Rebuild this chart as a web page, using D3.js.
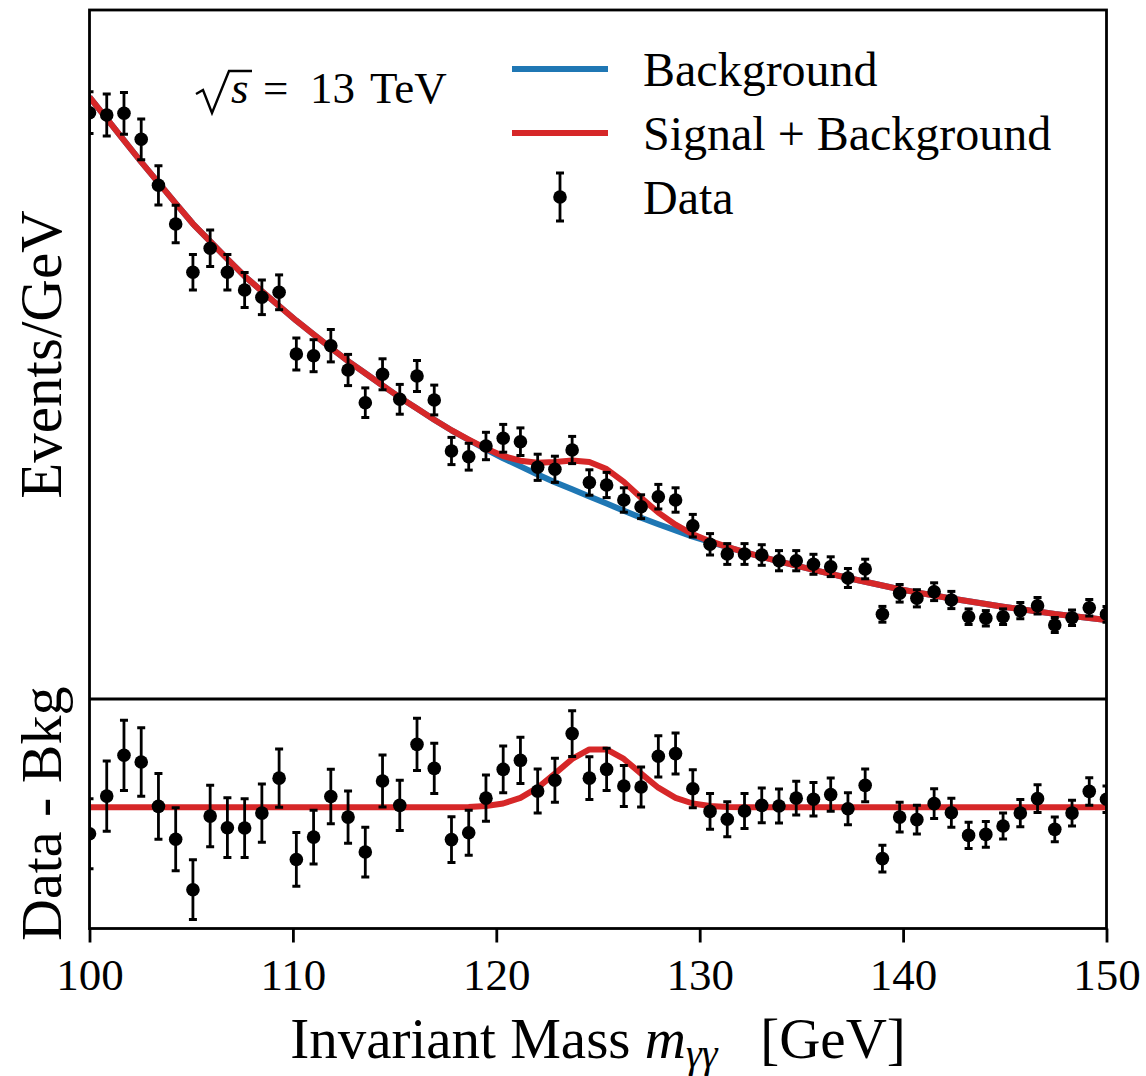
<!DOCTYPE html>
<html>
<head>
<meta charset="utf-8">
<script src="https://cdn.jsdelivr.net/npm/d3@7"></script>
<style>
  body { margin: 0; background: #fff; }
  text { font-family: "Liberation Serif", "DejaVu Serif", serif; fill: #000; }
</style>
</head>
<body>
<div id="chart"></div>
<script>
// binning: 60 bin centres from 100 to 150 GeV
var massLo = 100, massHi = 150, nBins = 60;
var mass = d3.range(nBins).map(function(i) { return massLo + i * (massHi - massLo) / (nBins - 1); });

// events per bin (arbitrary units)
var events = [585.3, 583.0, 584.7, 558.7, 512.7, 474.0, 425.7, 449.7, 425.7, 408.0,
  400.7, 405.7, 344.0, 342.3, 352.3, 328.0, 295.3, 323.7, 298.7, 322.0,
  298.0, 247.0, 241.3, 252.0, 259.7, 256.3, 230.7, 228.7, 248.0, 215.5,
  213.0, 198.0, 191.3, 201.3, 198.0, 172.3, 153.7, 144.0, 144.0, 143.0,
  137.3, 137.3, 133.7, 131.3, 120.0, 129.0, 83.7, 104.7, 99.7, 106.3,
  98.0, 81.3, 79.7, 81.3, 87.3, 92.3, 73.0, 80.3, 90.3, 83.7];

var errors = [20.9, 20.9, 20.9, 20.4, 19.6, 18.8, 17.8, 18.3, 17.8, 17.5,
  17.3, 17.4, 16.0, 16.0, 16.2, 15.6, 14.8, 15.5, 14.9, 15.5,
  14.9, 13.6, 13.4, 13.7, 13.9, 13.8, 13.1, 13.1, 13.6, 12.7,
  12.6, 12.2, 11.9, 12.3, 12.2, 11.3, 10.7, 10.4, 10.4, 10.3,
  10.1, 10.1, 10.0, 9.9, 9.5, 9.8, 7.9, 8.8, 8.6, 8.9,
  8.6, 7.8, 7.7, 7.8, 8.1, 8.3, 7.4, 7.7, 8.2, 7.9];

// data - background, same units
var residual = [-15.7, 6.7, 31.0, 27.0, 0.6, -19.0, -49.0, -5.2, -12.1, -12.3,
  -3.4, 17.4, -31.0, -17.7, 6.5, -5.8, -26.6, 15.7, 1.2, 37.5,
  23.2, -19.2, -15.1, 5.5, 22.6, 28.0, 9.7, 16.1, 43.9, 17.4,
  22.6, 12.7, 12.1, 30.4, 32.0, 11.1, -2.4, -7.1, -2.2, 1.2,
  0.8, 5.5, 4.8, 7.6, -0.8, 13.1, -30.5, -5.8, -7.3, 2.2,
  -3.2, -16.7, -16.1, -11.1, -3.4, 5.2, -13.1, -3.4, 9.5, 4.8];

// fitted curves evaluated at the bin centres
var background = [601, 579.3, 557.6, 536, 515.3, 494.6, 474.2, 456.6, 439, 421.8,
  406.8, 392, 377.3, 363.7, 350.2, 336.9, 324.7, 312.5, 300.6, 289.4,
  278.3, 267.7, 258.2, 248.7, 239.7, 231.6, 223.5, 215.8, 208.7, 201.5,
  194.4, 187.3, 180.2, 173.7, 167.6, 161.4, 156, 150.9, 145.8, 141.1,
  136.7, 132.3, 128.2, 124.1, 120, 116.2, 112.5, 108.7, 105.6, 102.5,
  99.5, 96.7, 94, 91.3, 88.9, 86.5, 84.1, 82.1, 80, 78];

var signal = [0, 0, 0, 0, 0, 0, 0, 0, 0, 0,
  0, 0, 0, 0, 0, 0, 0, 0, 0, 0,
  0, 0.05, 0.2, 0.8, 2.3, 5.7, 11.7, 20.1, 28.8, 34.5,
  34.5, 28.8, 20.1, 11.7, 5.7, 2.3, 0.8, 0.2, 0.05, 0,
  0, 0, 0, 0, 0, 0, 0, 0, 0, 0,
  0, 0, 0, 0, 0, 0, 0, 0, 0, 0];

var xTicks = [100, 110, 120, 130, 140, 150];
var legendLabels = ["Background", "Signal + Background", "Data"];

var blue = "#1f77b4", red = "#d62728";

var width = 1146, height = 1076;
var left = 89.5, right = 1106.5, plotTop = 10, split = 699, bottom = 928.5;

var svg = d3.select("#chart").append("svg")
  .attr("width", width)
  .attr("height", height);

var x = d3.scaleLinear().domain([massLo, massHi]).range([left, right]);
var yTop = d3.scaleLinear().domain([0, 688]).range([698, plotTop]);
var yBot = d3.scaleLinear().domain([-72.1, 64.5]).range([bottom, split]);

var defs = svg.append("defs");
defs.append("clipPath").attr("id", "clipTop")
  .append("rect").attr("x", left).attr("y", plotTop).attr("width", right - left).attr("height", split - plotTop);
defs.append("clipPath").attr("id", "clipBot")
  .append("rect").attr("x", left).attr("y", split).attr("width", right - left).attr("height", bottom - split);

var idx = d3.range(nBins);

function drawLine(g, yScale, valueFn, color) {
  var line = d3.line()
    .x(function(i) { return x(mass[i]); })
    .y(function(i) { return yScale(valueFn(i)); });
  g.append("path")
    .datum(idx)
    .attr("d", line)
    .attr("fill", "none")
    .attr("stroke", color)
    .attr("stroke-width", 6)
    .attr("stroke-linejoin", "round");
}

function drawPoints(g, yScale, valueFn) {
  var pts = g.selectAll("g.pt")
    .data(idx)
    .enter()
    .append("g")
    .attr("class", "pt");
  pts.append("line")
    .attr("x1", function(i) { return x(mass[i]); })
    .attr("x2", function(i) { return x(mass[i]); })
    .attr("y1", function(i) { return yScale(valueFn(i) - errors[i]); })
    .attr("y2", function(i) { return yScale(valueFn(i) + errors[i]); })
    .attr("stroke", "black")
    .attr("stroke-width", 2.8);
  [-1, 1].forEach(function(s) {
    pts.append("line")
      .attr("x1", function(i) { return x(mass[i]) - 4; })
      .attr("x2", function(i) { return x(mass[i]) + 4; })
      .attr("y1", function(i) { return yScale(valueFn(i) + s * errors[i]); })
      .attr("y2", function(i) { return yScale(valueFn(i) + s * errors[i]); })
      .attr("stroke", "black")
      .attr("stroke-width", 3);
  });
  pts.append("circle")
    .attr("cx", function(i) { return x(mass[i]); })
    .attr("cy", function(i) { return yScale(valueFn(i)); })
    .attr("r", 6.8)
    .attr("fill", "black");
}

// upper panel
var upper = svg.append("g").attr("clip-path", "url(#clipTop)");
drawLine(upper, yTop, function(i) { return background[i]; }, blue);
drawLine(upper, yTop, function(i) { return background[i] + signal[i]; }, red);
drawPoints(upper, yTop, function(i) { return events[i]; });

// lower panel
var lower = svg.append("g").attr("clip-path", "url(#clipBot)");
drawLine(lower, yBot, function(i) { return signal[i]; }, red);
drawPoints(lower, yBot, function(i) { return residual[i]; });

// frames
svg.append("rect")
  .attr("x", left).attr("y", plotTop)
  .attr("width", right - left).attr("height", bottom - plotTop)
  .attr("fill", "none").attr("stroke", "black").attr("stroke-width", 2.8);
svg.append("line")
  .attr("x1", left).attr("x2", right)
  .attr("y1", split).attr("y2", split)
  .attr("stroke", "black").attr("stroke-width", 2.8);

// x axis
var xAxis = d3.axisBottom(x)
  .tickValues(xTicks)
  .tickSize(14)
  .tickPadding(16)
  .tickFormat(d3.format("d"));

svg.append("g")
  .attr("transform", "translate(0," + bottom + ")")
  .call(xAxis)
  .call(function(g) { g.select(".domain").remove(); })
  .call(function(g) { g.selectAll(".tick line").attr("stroke-width", 2.8); })
  .call(function(g) { g.selectAll(".tick text").style("font-size", "45px"); });

// axis labels
var xLabel = svg.append("text")
  .attr("x", (left + right) / 2)
  .attr("y", 1058)
  .attr("text-anchor", "middle")
  .style("font-size", "57px");
xLabel.append("tspan").text("Invariant Mass ");
xLabel.append("tspan").attr("font-style", "italic").text("m");
xLabel.append("tspan").attr("font-style", "italic").attr("dy", 9).style("font-size", "40px").text("γγ");
xLabel.append("tspan").attr("dy", -9).text("\u2002 [GeV]");

svg.append("text")
  .attr("transform", "translate(61," + (plotTop + split) / 2 + ") rotate(-90)")
  .attr("text-anchor", "middle")
  .style("font-size", "59px")
  .text("Events/GeV");

svg.append("text")
  .attr("transform", "translate(61," + (split + bottom) / 2 + ") rotate(-90)")
  .attr("text-anchor", "middle")
  .style("font-size", "58px")
  .text("Data - Bkg");

// energy annotation
var ann = svg.append("g");
ann.append("path")
  .attr("d", "M196,94 L203,90 L212,113 L229,71 L252,71")
  .attr("fill", "none")
  .attr("stroke", "black")
  .attr("stroke-width", 2.4)
  .attr("stroke-linejoin", "miter");
ann.append("text").attr("x", 231).attr("y", 103).attr("font-style", "italic").style("font-size", "45px").text("s");
ann.append("text").attr("x", 263).attr("y", 103).style("font-size", "45px").text("=");
ann.append("text").attr("x", 310).attr("y", 103).style("font-size", "45px").text("13");
ann.append("text").attr("x", 370).attr("y", 103).style("font-size", "45px").text("TeV");

// legend
var legend = svg.append("g");
var legendY = [69, 133, 197];
var legendColors = [blue, red, null];

legendLabels.forEach(function(label, k) {
  var cy = legendY[k];
  if (legendColors[k]) {
    legend.append("line")
      .attr("x1", 512).attr("x2", 608)
      .attr("y1", cy).attr("y2", cy)
      .attr("stroke", legendColors[k])
      .attr("stroke-width", 6);
  } else {
    legend.append("line")
      .attr("x1", 560).attr("x2", 560)
      .attr("y1", cy - 24).attr("y2", cy + 24)
      .attr("stroke", "black").attr("stroke-width", 2.8);
    [-24, 24].forEach(function(d) {
      legend.append("line")
        .attr("x1", 556).attr("x2", 564)
        .attr("y1", cy + d).attr("y2", cy + d)
        .attr("stroke", "black").attr("stroke-width", 3);
    });
    legend.append("circle").attr("cx", 560).attr("cy", cy).attr("r", 6.8).attr("fill", "black");
  }
  legend.append("text")
    .attr("x", 643)
    .attr("y", cy + 17)
    .style("font-size", "48px")
    .text(label);
});
</script>
</body>
</html>
